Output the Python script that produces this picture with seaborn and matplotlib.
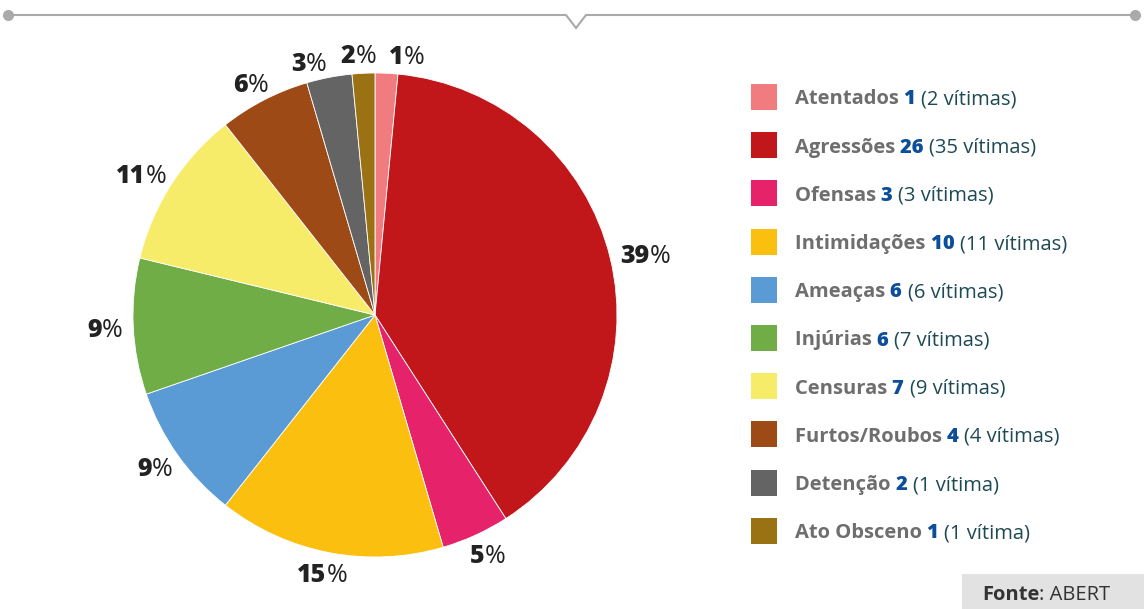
import matplotlib.pyplot as plt
import numpy as np
import seaborn as sns

sns.set_theme(style="white")
plt.rcParams['font.family'] = ['Open Sans', 'DejaVu Sans']

# Data
categorias = ["Atentados", "Agressões", "Ofensas", "Intimidações", "Ameaças",
              "Injúrias", "Censuras", "Furtos/Roubos", "Detenção", "Ato Obsceno"]
casos = [1, 26, 3, 10, 6, 6, 7, 4, 2, 1]
vitimas = ["(2 vítimas)", "(35 vítimas)", "(3 vítimas)", "(11 vítimas)", "(6 vítimas)",
           "(7 vítimas)", "(9 vítimas)", "(4 vítimas)", "(1 vítima)", "(1 vítima)"]
pct_labels = ["1", "39", "5", "15", "9", "9", "11", "6", "3", "2"]
cores = ["#F07C80", "#C1161A", "#E6236A", "#FBBF10", "#5A9BD5",
         "#70AD47", "#F7EB6A", "#9E4A17", "#646464", "#9A7214"]

W, H = 1144, 609
fig = plt.figure(figsize=(W / 100, H / 100), dpi=100)
ax = fig.add_axes([0, 0, 1, 1])

cx, cy, r = 375, H - 315, 242
wedges, _ = ax.pie(casos, colors=cores, startangle=90, counterclock=False,
                   center=(cx, cy), radius=r, frame=True,
                   wedgeprops=dict(edgecolor="white", linewidth=0.6))
ax.set_xlim(0, W)
ax.set_ylim(0, H)
ax.set_aspect("equal")
ax.axis("off")

fig.canvas.draw()
renderer = fig.canvas.get_renderer()


def texto_partes(x, y, partes, size, ha="left"):
    # draws consecutive text pieces on one baseline
    objs = []
    for s, cor, peso in partes:
        t = ax.text(x, y, s, color=cor, fontsize=size, fontweight=peso,
                    va="center_baseline", ha="left")
        objs.append(t)
    larguras = [t.get_window_extent(renderer).width for t in objs]
    total = sum(larguras)
    if ha == "center":
        pos = x - total / 2
    elif ha == "right":
        pos = x - total
    else:
        pos = x
    for t, w in zip(objs, larguras):
        t.set_x(pos)
        pos += w
    return objs, total


# percent labels: nearest edge of the text sits just outside the pie,
# neighbours nudged apart where they collide
angs = [(w.theta1 + w.theta2) / 2 for w in wedges]
dist = r * 1.045
alt_lab = 18
larg = [22 + 14 * len(s) for s in pct_labels]


def centro(a, w):
    c, s = np.cos(np.deg2rad(a)), np.sin(np.deg2rad(a))
    return cx + dist * c + c * w / 2, cy + dist * s + s * alt_lab / 2


for _ in range(80):
    moved = False
    for i in range(len(angs)):
        j = (i + 1) % len(angs)
        xi, yi = centro(angs[i], larg[i])
        xj, yj = centro(angs[j], larg[j])
        if abs(xi - xj) < (larg[i] + larg[j]) / 2 + 12 and abs(yi - yj) < 24:
            angs[i] += 0.4
            angs[j] -= 0.4
            moved = True
    if not moved:
        break

for a, lab in zip(angs, pct_labels):
    objs, _ = texto_partes(0, 0, [(lab, "#222222", "heavy"), ("%", "#222222", "normal")], 18)
    w = sum(t.get_window_extent(renderer).width for t in objs)
    for t in objs:
        t.remove()
    x, y = centro(a, w)
    texto_partes(x, y, [(lab, "#222222", "heavy"), ("%", "#222222", "normal")], 18, ha="center")

# legend
y0 = H - 97
for i, (cat, n, v, c) in enumerate(zip(categorias, casos, vitimas, cores)):
    y = y0 - i * 48.2
    ax.add_patch(plt.Rectangle((751, y - 13), 26, 26, color=c, lw=0))
    texto_partes(795, y, [(cat + " ", "#6E6E6E", "bold"),
                          (str(n) + " ", "#0B4F9A", "heavy"),
                          (v, "#1E4A55", "normal")], 14.5)

# top decoration
ly = H - 15
ax.plot([8, 566, 576, 586, 1135], [ly, ly, ly - 13, ly, ly], color="#AAAAAA", lw=1.5,
        solid_joinstyle="miter")
ax.plot([8, 1135], [ly, ly], "o", color="#AAAAAA", ms=8, mec="none")

# source box
ax.add_patch(plt.Rectangle((962, 0), W - 962, 35, color="#E2E2E2", lw=0))
texto_partes(982, 17, [("Fonte", "#333333", "bold"), (": ABERT", "#333333", "normal")], 14.5)

fig.savefig("out.png", dpi=100)
